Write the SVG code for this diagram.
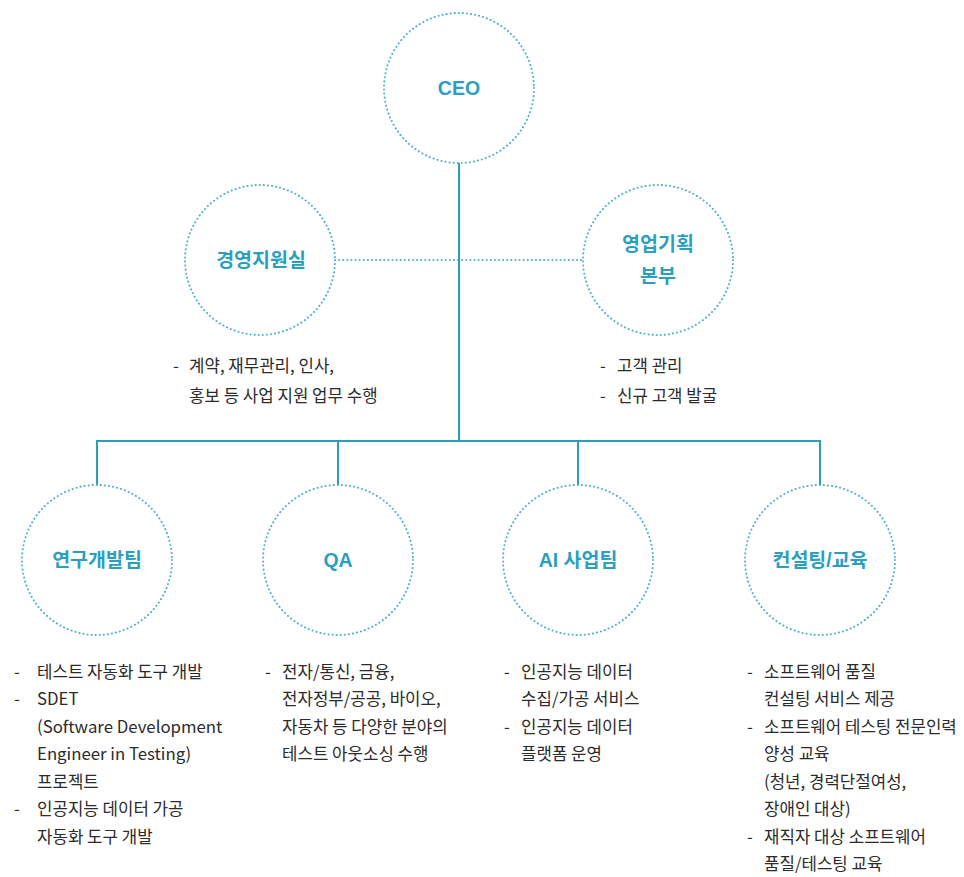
<svg xmlns="http://www.w3.org/2000/svg" width="964" height="877" viewBox="0 0 964 877">
<defs>
<style>
.node circle{fill:#fff;stroke:#4fb0c9;stroke-width:2;stroke-dasharray:0.1 4;stroke-linecap:round}
.lbl{font-family:"Liberation Sans","Noto Sans CJK KR",sans-serif;font-size:19.5px;font-weight:700;fill:#2a9fbe;text-anchor:middle}
.txt{font-family:"Noto Sans CJK KR","Noto Sans",sans-serif;font-size:16.8px;fill:#2b2b2b}
.conn{stroke:#2a9fb9;stroke-width:2;fill:none}
.dot{stroke:#4fb0c9;stroke-width:2;stroke-dasharray:0.1 4;stroke-linecap:round;fill:none}
</style>
</defs>
<rect width="964" height="877" fill="#fff"/>
<g id="connectors">
<line class="dot" x1="335" y1="260" x2="583" y2="260"/>
<line class="conn" x1="459" y1="163" x2="459" y2="441"/>
<line class="conn" x1="96" y1="441" x2="821" y2="441"/>
<line class="conn" x1="97" y1="440" x2="97" y2="486"/>
<line class="conn" x1="338" y1="440" x2="338" y2="486"/>
<line class="conn" x1="578" y1="440" x2="578" y2="486"/>
<line class="conn" x1="820" y1="440" x2="820" y2="486"/>
</g>
<g id="ceo" class="node"><circle cx="459" cy="88" r="75"/><text class="lbl" x="459" y="95">CEO</text></g>
<g id="mgmt" class="node"><circle cx="260" cy="260" r="75"/><text class="lbl" x="261" y="267">경영지원실</text>
<text class="txt" x="173" y="372">-</text><text class="txt" x="189" y="372">계약, 재무관리, 인사,</text>
<text class="txt" x="189" y="402">홍보 등 사업 지원 업무 수행</text></g>
<g id="sales" class="node"><circle cx="658" cy="260" r="75"/><text class="lbl" x="658" y="251">영업기획</text><text class="lbl" x="658" y="283">본부</text>
<text class="txt" x="600" y="372">-</text><text class="txt" x="617" y="372">고객 관리</text>
<text class="txt" x="600" y="402">-</text><text class="txt" x="617" y="402">신규 고객 발굴</text></g>
<g id="rnd" class="node"><circle cx="97" cy="560" r="75"/><text class="lbl" x="97" y="567">연구개발팀</text>
<text class="txt" x="14" y="678">-</text><text class="txt" x="37" y="678">테스트 자동화 도구 개발</text>
<text class="txt" x="14" y="705">-</text><text class="txt" x="37" y="705">SDET</text>
<text class="txt" x="37" y="733">(Software Development</text>
<text class="txt" x="37" y="760">Engineer in Testing)</text>
<text class="txt" x="37" y="788">프로젝트</text>
<text class="txt" x="14" y="815">-</text><text class="txt" x="37" y="815">인공지능 데이터 가공</text>
<text class="txt" x="37" y="843">자동화 도구 개발</text></g>
<g id="qa" class="node"><circle cx="338" cy="560" r="75"/><text class="lbl" x="338" y="567">QA</text>
<text class="txt" x="265" y="678">-</text><text class="txt" x="282" y="678">전자/통신, 금융,</text>
<text class="txt" x="282" y="705">전자정부/공공, 바이오,</text>
<text class="txt" x="282" y="733">자동차 등 다양한 분야의</text>
<text class="txt" x="282" y="760">테스트 아웃소싱 수행</text></g>
<g id="ai" class="node"><circle cx="578" cy="560" r="75"/><text class="lbl" x="578" y="567">AI 사업팀</text>
<text class="txt" x="504" y="678">-</text><text class="txt" x="521" y="678">인공지능 데이터</text>
<text class="txt" x="521" y="705">수집/가공 서비스</text>
<text class="txt" x="504" y="733">-</text><text class="txt" x="521" y="733">인공지능 데이터</text>
<text class="txt" x="521" y="760">플랫폼 운영</text></g>
<g id="consult" class="node"><circle cx="820" cy="560" r="75"/><text class="lbl" x="820" y="567">컨설팅/교육</text>
<text class="txt" x="747" y="678">-</text><text class="txt" x="764" y="678">소프트웨어 품질</text>
<text class="txt" x="764" y="705">컨설팅 서비스 제공</text>
<text class="txt" x="747" y="733">-</text><text class="txt" x="764" y="733">소프트웨어 테스팅 전문인력</text>
<text class="txt" x="764" y="760">양성 교육</text>
<text class="txt" x="764" y="788">(청년, 경력단절여성,</text>
<text class="txt" x="764" y="815">장애인 대상)</text>
<text class="txt" x="747" y="843">-</text><text class="txt" x="764" y="843">재직자 대상 소프트웨어</text>
<text class="txt" x="764" y="870">품질/테스팅 교육</text></g>
</svg>
